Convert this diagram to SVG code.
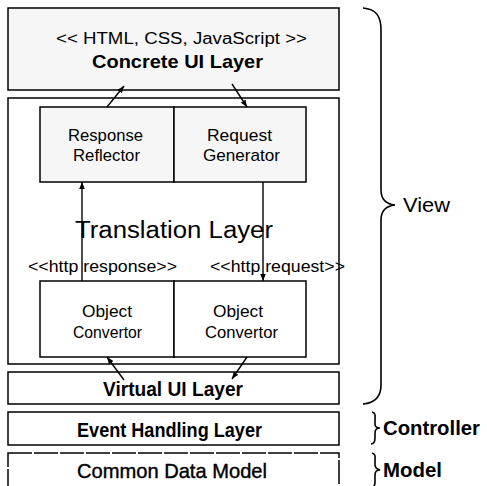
<svg xmlns="http://www.w3.org/2000/svg" width="487" height="486" viewBox="0 0 487 486">
<style>
.box{fill:#fff;stroke:#000;stroke-width:1.5}
.grey{fill:#f6f6f6}
.t{font-family:"Liberation Sans",Arial,sans-serif;fill:#000}
.b{font-weight:bold}
.c{stroke:#000;stroke-width:1.4;fill:none}
.br{stroke:#000;stroke-width:1.6;fill:none}
</style>
<defs>
<marker id="ah" viewBox="0 0 10 10" refX="10" refY="5" markerWidth="7" markerHeight="7" orient="auto" markerUnits="userSpaceOnUse">
<path d="M0,1 L10,5 L0,9 z" fill="#000"/>
</marker>
</defs>
<rect width="487" height="486" fill="#fff"/>

<g id="concrete-ui-layer">
<rect class="box grey" x="8" y="8" width="331" height="82"/>
<text class="t" x="56" y="44" font-size="16" textLength="251" lengthAdjust="spacingAndGlyphs">&lt;&lt; HTML, CSS, JavaScript &gt;&gt;</text>
<text class="t b" x="92" y="68" font-size="19" textLength="171" lengthAdjust="spacingAndGlyphs">Concrete UI Layer</text>
</g>

<g id="translation-layer">
<rect class="box" x="8" y="98" width="331" height="266"/>
<text class="t" x="75" y="238" font-size="23" textLength="198" lengthAdjust="spacingAndGlyphs">Translation Layer</text>
<text class="t" x="28" y="272" font-size="17" textLength="149" lengthAdjust="spacingAndGlyphs">&lt;&lt;http response&gt;&gt;</text>
<text class="t" x="210" y="272" font-size="17" textLength="135" lengthAdjust="spacingAndGlyphs">&lt;&lt;http request&gt;&gt;</text>
</g>

<g id="response-reflector">
<rect class="box grey" x="40" y="107" width="134" height="75"/>
<text class="t" x="68" y="141" font-size="17" textLength="75" lengthAdjust="spacingAndGlyphs">Response</text>
<text class="t" x="73" y="161" font-size="17" textLength="67" lengthAdjust="spacingAndGlyphs">Reflector</text>
</g>

<g id="request-generator">
<rect class="box grey" x="174" y="107" width="132" height="75"/>
<text class="t" x="207" y="141" font-size="17" textLength="65" lengthAdjust="spacingAndGlyphs">Request</text>
<text class="t" x="203" y="161" font-size="17" textLength="77" lengthAdjust="spacingAndGlyphs">Generator</text>
</g>

<g id="object-convertor-left">
<rect class="box" x="40" y="281" width="134" height="76"/>
<text class="t" x="82" y="317" font-size="17" textLength="50" lengthAdjust="spacingAndGlyphs">Object</text>
<text class="t" x="73" y="338" font-size="17" textLength="69" lengthAdjust="spacingAndGlyphs">Convertor</text>
</g>

<g id="object-convertor-right">
<rect class="box" x="174" y="281" width="132" height="76"/>
<text class="t" x="213" y="317" font-size="17" textLength="50" lengthAdjust="spacingAndGlyphs">Object</text>
<text class="t" x="205" y="338" font-size="17" textLength="73" lengthAdjust="spacingAndGlyphs">Convertor</text>
</g>

<g id="virtual-ui-layer">
<rect class="box" x="8" y="372" width="331" height="32"/>
<text class="t b" x="103" y="396" font-size="20" textLength="140" lengthAdjust="spacingAndGlyphs">Virtual UI Layer</text>
</g>

<g id="event-handling-layer">
<rect class="box" x="8" y="412" width="331" height="33"/>
<text class="t b" x="77" y="437" font-size="20" textLength="185" lengthAdjust="spacingAndGlyphs">Event Handling Layer</text>
</g>

<g id="common-data-model">
<rect class="box" x="8" y="453" width="331" height="40" stroke-dasharray="24 2"/>
<text class="t" x="77" y="478" font-size="21" textLength="190" lengthAdjust="spacingAndGlyphs" stroke="#000" stroke-width="0.4">Common Data Model</text>
</g>

<g id="view-label">
<path class="br" d="M363,8 C376,9 381,16 381,30 L381,190 C381,200 386,204 395,205 C386,206 381,210 381,220 L381,385 C381,397 375,403 363,404"/>
<text class="t" x="403" y="212" font-size="20" textLength="47" lengthAdjust="spacingAndGlyphs">View</text>
</g>

<g id="controller-label">
<path class="br" d="M372,412 C376,413 375,416 375,420 L375,424 C375,427 377,428 380,428 C377,428 375,430 375,433 L375,438 C375,441 374,444 371,444"/>
<text class="t b" x="383" y="435" font-size="20" textLength="97" lengthAdjust="spacingAndGlyphs">Controller</text>
</g>

<g id="model-label">
<path class="br" d="M372,453 C376,454 375,457 375,461 L375,465 C375,468 377,469 380,470 C377,470 375,472 375,475 L375,482 C375,485 374,487 372,488"/>
<text class="t b" x="383" y="477" font-size="20" textLength="59" lengthAdjust="spacingAndGlyphs">Model</text>
</g>

<g id="connectors">
<line class="c" x1="107" y1="107" x2="124" y2="86" marker-end="url(#ah)"/>
<line class="c" x1="232" y1="84" x2="247" y2="107" marker-end="url(#ah)"/>
<line class="c" x1="82" y1="281" x2="82" y2="182" marker-end="url(#ah)"/>
<line class="c" x1="263" y1="182" x2="263" y2="281" marker-end="url(#ah)"/>
<line class="c" x1="124" y1="380" x2="107" y2="357" marker-end="url(#ah)"/>
<line class="c" x1="247" y1="357" x2="232" y2="379" marker-end="url(#ah)"/>
</g>
</svg>
